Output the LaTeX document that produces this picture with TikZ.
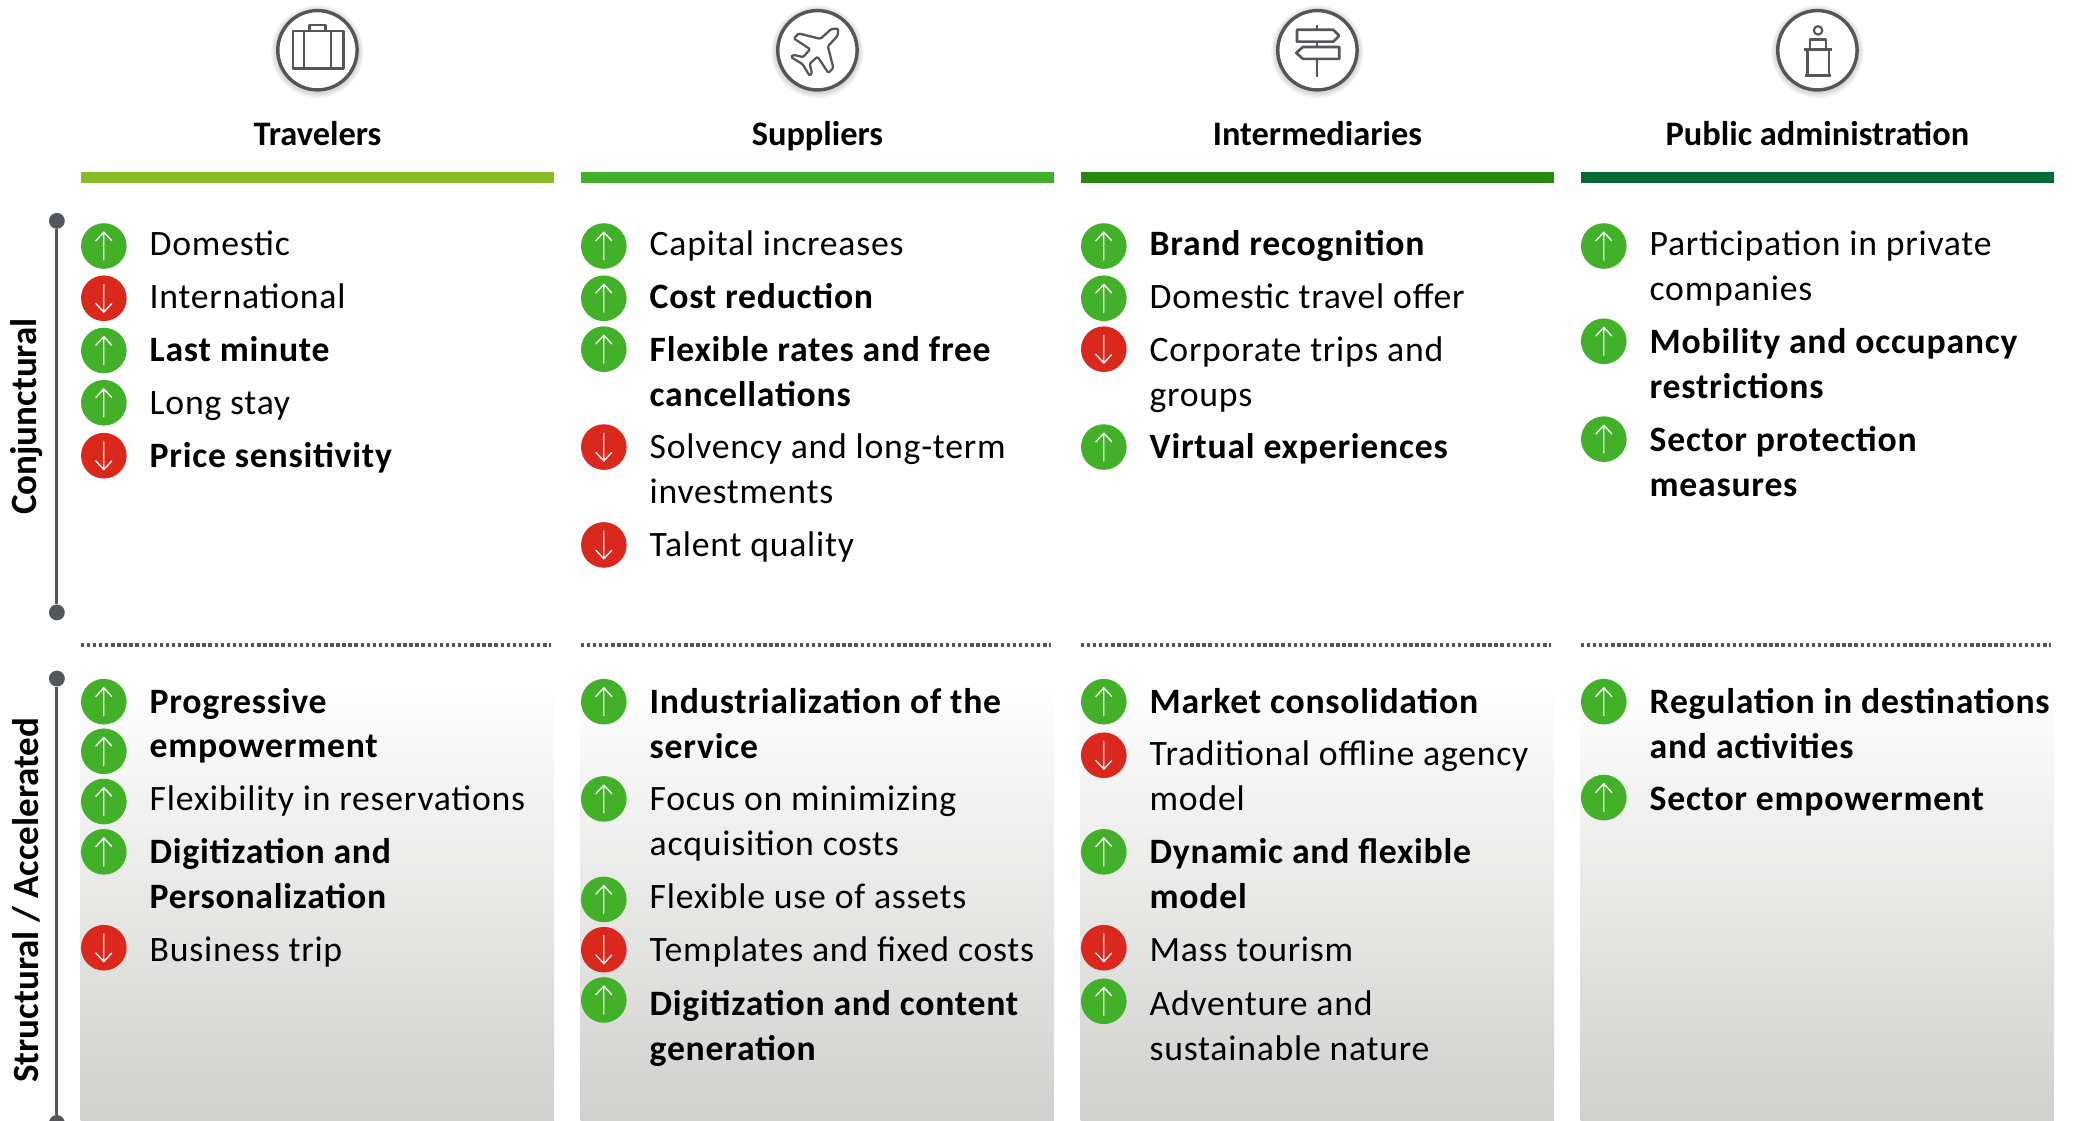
\documentclass[tikz,border=0pt]{standalone}
\usepackage{fontspec}
\setmainfont{Carlito}
\newfontfamily\bodyf[LetterSpace=2.1]{Carlito}
\usetikzlibrary{calc}
\definecolor{gA}{HTML}{86BC25}
\definecolor{gB}{HTML}{43B02A}
\definecolor{gC}{HTML}{26890D}
\definecolor{gD}{HTML}{046A38}
\definecolor{rd}{HTML}{DA291C}
\definecolor{gy}{HTML}{53565A}
\definecolor{shd}{HTML}{D0D0CE}
\newcommand{\twol}[2]{\vtop{\baselineskip=34pt\hbox{\strut #1}\hbox{\strut #2}}}
\tikzset{
 x=1pt,y=-1pt,
 mark base/.style={circle,inner sep=0,minimum size=34.5pt},
 upmark/.style={mark base,fill=gB,path picture={
   \draw[white,line width=1pt,line cap=round,line join=round]
    ($(path picture bounding box.center)+(0,10.5)$) -- ++(0,-21) ++(-6,6.5) -- ++(6,-6.5) -- ++(6,6.5);}},
 downmark/.style={mark base,fill=rd,path picture={
   \draw[white,line width=1pt,line cap=round,line join=round]
    ($(path picture bounding box.center)+(0,-10.5)$) -- ++(0,21) ++(-6,-6.5) -- ++(6,6.5) -- ++(6,-6.5);}},
 itemtxt/.style={anchor=base west,inner sep=0,font=\fontsize{27}{34}\selectfont\bodyf},
 itembold/.style={anchor=base west,inner sep=0,font=\fontsize{27}{34}\selectfont\bodyf\bfseries},
 heading/.style={inner sep=0,anchor=base,font=\fontsize{26}{34}\selectfont\bfseries},
 iconring/.style={circle,inner sep=0,minimum size=60pt,draw=gy,line width=2.6pt,fill=white},
 iconline/.style={draw=gy,line width=2pt,line join=round},
 axisdot/.style={circle,fill=gy,inner sep=0,minimum size=12pt},
 axisline/.style={gy,line width=2.2pt},
 axislabel/.style={rotate=90,inner sep=0,font=\fontsize{28}{34}\selectfont\bfseries},
 sepline/.style={gy,line width=3pt,dash pattern=on 2.6pt off 2pt},
}
% \itm{name}{mark x}{mark y}{baseline y}{mark style}{text style}{text}
\newcommand{\itm}[7]{%
 \node[#5] (m#1) at (#2,#3) {};
 \node[#6] (t#1) at (#2+34.5,#4) {#7};
}
\begin{document}
\begin{tikzpicture}
\useasboundingbox (0,0) rectangle (1568,847.5);
% gradient panels
\foreach \xa in {61,439,817,1195}{
  \shade[top color=white,bottom color=shd] (\xa,515) rectangle (\xa+358,847);
}
% heading bars
\fill[gA] (61,130) rectangle (419,138.5);
\fill[gB] (439,130) rectangle (797,138.5);
\fill[gC] (817,130) rectangle (1175,138.5);
\fill[gD] (1195,130) rectangle (1553,138.5);
% dotted separators
\foreach \xa in {61,439,817,1195}{
  \draw[sepline] (\xa,487.5) -- (\xa+355.5,487.5);
}
% icon rings with soft shadow
\foreach \cx in {240,618,996,1374}{
  \foreach \r in {35,34,33,32}{\fill[black,opacity=.04] (\cx,39) circle[radius=\r];}
}
\node[iconring] (ring1) at (240,38) {};
\node[iconring] (ring2) at (618,38) {};
\node[iconring] (ring3) at (996,38) {};
\node[iconring] (ring4) at (1374,38) {};
% suitcase
\draw[iconline] (221.5,23.5) rectangle (259.5,52);
\draw[gy,line width=1.4pt] (230,23.5) -- (230,52) (250,23.5) -- (250,52);
\draw[iconline] (234,23.5) -- (234,19) -- (246,19) -- (246,23.5);
% plane
\begin{scope}[shift={(616,39.3)},y=1pt,rotate=-45]
\draw[gy,line width=1.7pt,line join=round,rounded corners=1pt]
 (0,25) -- (3.5,21) -- (4,10) -- (18.5,1.3) -- (18.5,-4) -- (4,-1) -- (3.5,-9) -- (10,-13) -- (10,-15.5) -- (0,-13)
 -- (-10,-15.5) -- (-10,-13) -- (-3.5,-9) -- (-4,-1) -- (-18.5,-4) -- (-18.5,1.3) -- (-4,10) -- (-3.5,21) -- cycle;
\end{scope}
% signpost
\draw[gy,line width=1.5pt] (996,19) -- (996,58);
\draw[iconline,fill=white] (980.5,22.5) -- (1008,22.5) -- (1012.5,27) -- (1008,31.5) -- (980.5,31.5) -- cycle;
\draw[iconline,fill=white] (1012.5,35.5) -- (985,35.5) -- (980,40) -- (985,44.5) -- (1012.5,44.5) -- cycle;
% info stand
\draw[gy,line width=1.6pt] (1374.5,23) circle[radius=3.2];
\draw[iconline] (1368.5,37) -- (1368.5,30) -- (1380.5,30) -- (1380.5,37);
\draw[gy,line width=2.6pt] (1364,37.3) -- (1385,37.3);
\draw[gy,line width=1.7pt] (1366.5,37) -- (1366.5,57) (1382.5,37) -- (1382.5,57);
\draw[gy,line width=2.6pt] (1364.5,57) -- (1384.5,57);
% headings
\node[heading] (h1) at (240,110) {Travelers};
\node[heading] (h2) at (618,110) {Suppliers};
\node[heading] (h3) at (996,110) {Intermediaries};
\node[heading] (h4) at (1374,110) {Public administration};
% axes
\node[axisdot] (a1) at (43,167) {};
\node[axisdot] (a2) at (43,463) {};
\draw[axisline] (a1) -- (a2);
\node[axisdot] (b1) at (43,513) {};
\node[axisdot] (b2) at (43,849) {};
\draw[axisline] (b1) -- (b2);
\node[axislabel] (c1) at (20,315) {Conjunctural};
\node[axislabel] (c2) at (20,680.5) {Structural / Accelerated};
% ---- column 1, top
\def\cx{78.5}
\itm{a}{\cx}{186}{193}{upmark}{itemtxt}{Domestic}
\itm{b}{\cx}{225.5}{233.4}{downmark}{itemtxt}{International}
\itm{c}{\cx}{265}{273.4}{upmark}{itembold}{Last minute}
\itm{d}{\cx}{304.5}{313.4}{upmark}{itemtxt}{Long stay}
\itm{e}{\cx}{344.5}{353.4}{downmark}{itembold}{Price sensitivity}
% ---- column 2, top
\def\cx{456.5}
\itm{f}{\cx}{186}{193}{upmark}{itemtxt}{Capital increases}
\itm{g}{\cx}{225.5}{233.4}{upmark}{itembold}{Cost reduction}
\itm{h}{\cx}{264}{273.4}{upmark}{itembold}{\twol{Flexible rates and free}{cancellations}}
\itm{i}{\cx}{338}{347}{downmark}{itemtxt}{\twol{Solvency and long-term}{investments}}
\itm{j}{\cx}{412}{421}{downmark}{itemtxt}{Talent quality}
% ---- column 3, top
\def\cx{834.5}
\itm{k}{\cx}{186}{193}{upmark}{itembold}{Brand recognition}
\itm{l}{\cx}{225.5}{233.4}{upmark}{itemtxt}{Domestic travel offer}
\itm{n}{\cx}{264}{273.4}{downmark}{itemtxt}{\twol{Corporate trips and}{groups}}
\itm{o}{\cx}{338}{347}{upmark}{itembold}{Virtual experiences}
% ---- column 4, top
\def\cx{1212.5}
\itm{p}{\cx}{186}{193}{upmark}{itemtxt}{\twol{Participation in private}{companies}}
\itm{q}{\cx}{258}{267.4}{upmark}{itembold}{\twol{Mobility and occupancy}{restrictions}}
\itm{r}{\cx}{332}{341.4}{upmark}{itembold}{\twol{Sector protection}{measures}}
% ---- column 1, bottom
\def\cx{78.5}
\itm{s}{\cx}{530.5}{539.4}{upmark}{itembold}{Progressive}
\node[upmark] (ms2) at (\cx,568) {};
\node[itembold] (ts2) at (113,573) {empowerment};
\itm{u}{\cx}{606}{613}{upmark}{itemtxt}{Flexibility in reservations}
\itm{v}{\cx}{644}{653}{upmark}{itembold}{\twol{Digitization and}{Personalization}}
\itm{w}{\cx}{716.5}{727}{downmark}{itemtxt}{Business trip}
% ---- column 2, bottom
\def\cx{456.5}
\itm{x}{\cx}{530.5}{539.4}{upmark}{itembold}{\twol{Industrialization of the}{service}}
\itm{y}{\cx}{604}{613}{upmark}{itemtxt}{\twol{Focus on minimizing}{acquisition costs}}
\itm{z}{\cx}{680}{687}{upmark}{itemtxt}{Flexible use of assets}
\itm{aa}{\cx}{718}{727}{downmark}{itemtxt}{Templates and fixed costs}
\itm{ab}{\cx}{756}{767.4}{upmark}{itembold}{\twol{Digitization and content}{generation}}
% ---- column 3, bottom
\def\cx{834.5}
\itm{ac}{\cx}{530.5}{539.4}{upmark}{itembold}{Market consolidation}
\itm{ad}{\cx}{571}{579}{downmark}{itemtxt}{\twol{Traditional offline agency}{model}}
\itm{ae}{\cx}{644}{653}{upmark}{itembold}{\twol{Dynamic and flexible}{model}}
\itm{af}{\cx}{716.5}{727}{downmark}{itemtxt}{Mass tourism}
\itm{ag}{\cx}{757}{767.4}{upmark}{itemtxt}{\twol{Adventure and}{sustainable nature}}
% ---- column 4, bottom
\def\cx{1212.5}
\itm{ah}{\cx}{530.5}{539.4}{upmark}{itembold}{\twol{Regulation in destinations}{and activities}}
\itm{ai}{\cx}{603}{613}{upmark}{itembold}{Sector empowerment}
\end{tikzpicture}
\end{document}
